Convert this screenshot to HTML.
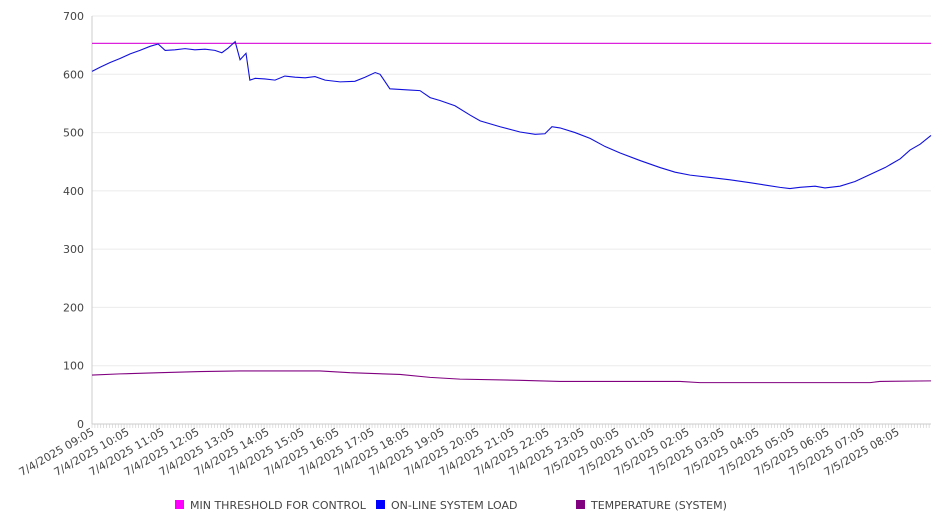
<!DOCTYPE html>
<html><head><meta charset="utf-8"><style>
body{margin:0;background:#fff;font-family:"DejaVu Sans","Liberation Sans",sans-serif;}
svg text{font-family:"DejaVu Sans","Liberation Sans",sans-serif;fill:#444;}
</style></head><body>
<svg id="chart" width="946" height="526" xmlns="http://www.w3.org/2000/svg"></svg>
<script>
const yTicks=[0,100,200,300,400,500,600,700];
const xLabels=["7/4/2025 09:05","7/4/2025 10:05","7/4/2025 11:05","7/4/2025 12:05","7/4/2025 13:05","7/4/2025 14:05","7/4/2025 15:05","7/4/2025 16:05","7/4/2025 17:05","7/4/2025 18:05","7/4/2025 19:05","7/4/2025 20:05","7/4/2025 21:05","7/4/2025 22:05","7/4/2025 23:05","7/5/2025 00:05","7/5/2025 01:05","7/5/2025 02:05","7/5/2025 03:05","7/5/2025 04:05","7/5/2025 05:05","7/5/2025 06:05","7/5/2025 07:05","7/5/2025 08:05"];
const thresholdValue=653;
const loadHours=[0,.23,.51,.8,1.09,1.37,1.66,1.89,2.09,2.37,2.66,2.94,3.23,3.51,3.71,3.89,4.09,4.23,4.4,4.51,4.66,4.94,5.23,5.51,5.8,6.09,6.37,6.66,7.09,7.51,7.8,8.09,8.23,8.51,8.8,9.09,9.37,9.66,9.94,10.37,10.8,11.09,11.66,12.23,12.66,12.94,13.14,13.37,13.8,14.23,14.66,15.09,15.66,16.23,16.66,17.09,17.66,18.23,18.8,19.23,19.66,19.94,20.23,20.66,20.94,21.37,21.8,22.23,22.66,23.09,23.37,23.66,23.97];
const loadValues=[605,612,620,627,635,641,648,652,641,642,644,642,643,641,637,645,656,625,636,590,593,592,590,597,595,594,596,590,587,588,595,603,600,575,574,573,572,560,555,546,530,520,510,501,497,498,510,508,500,490,476,465,452,440,432,427,423,419,414,410,406,404,406,408,405,408,416,428,440,455,470,480,495];
const tempHours=[0,.8,1.94,3.09,4.23,6.51,7.37,8.8,9.66,10.51,12.23,13.37,16.8,17.37,22.23,22.51,23.97];
const tempValues=[84,86,88,90,91,91,88,85,80,77,75,73,73,71,71,73,74];
const NS="http://www.w3.org/2000/svg";
const svg=document.getElementById('chart');
const X0=92,X1=931,Y0=424,Y1=16,XMAX=23.97;
const xs=h=>X0+h/XMAX*(X1-X0);
const ys=v=>Y0-v/700*(Y0-Y1);
function mk(t,a,p){const e=document.createElementNS(NS,t);for(const k in a)e.setAttribute(k,a[k]);(p||svg).appendChild(e);return e;}
yTicks.forEach(v=>{
 const g=mk('line',{x1:X0,x2:X1,y1:ys(v),y2:ys(v),stroke:v?'#ebebeb':'#ccc','stroke-width':1});
 
 
 const t=mk('text',{x:X0-8,y:ys(v)+4,'text-anchor':'end','font-size':11});
 t.textContent=v;
 
 
});
const ax=mk('line',{x1:X0,x2:X0,y1:Y1,y2:Y0,stroke:'#ccc'});


for(let i=0;i<=287;i++){const x=xs(i/12);if(x>X1)break;
 const m=mk('line',{x1:x,x2:x,y1:Y0,y2:Y0+4,stroke:'#ccc','stroke-width':0.6});
 
 }
xLabels.forEach((l,i)=>{const x=xs(i)+3,y=Y0+10;
 const t=mk('text',{x:x,y:y,'text-anchor':'end','font-size':11,transform:`rotate(-30 ${x} ${y})`});
 t.textContent=l;
 
 });
const th=mk('line',{x1:X0,x2:X1,y1:ys(thresholdValue),y2:ys(thresholdValue),stroke:'#dd22dd','stroke-width':1.2});


function series(h,v,c,n){const p=mk('polyline',{points:h.map((x,i)=>xs(x)+','+ys(v[i])).join(' '),fill:'none',stroke:c,'stroke-width':1.1});
 
 }
series(loadHours,loadValues,'#1010dd','online-system-load-line');
series(tempHours,tempValues,'#800080','temperature-line');
const leg=[["MIN THRESHOLD FOR CONTROL","#ff00ff",175],["ON-LINE SYSTEM LOAD","#0000ff",376],["TEMPERATURE (SYSTEM)","#800080",576]];
leg.forEach(([l,c,x])=>{
 const g=mk('g',{});
 
 
 mk('rect',{x:x,y:500,width:9,height:9,fill:c},g);
 const t=mk('text',{x:x+15,y:509,'font-size':11},g);t.textContent=l;
});
</script>
</body></html>
